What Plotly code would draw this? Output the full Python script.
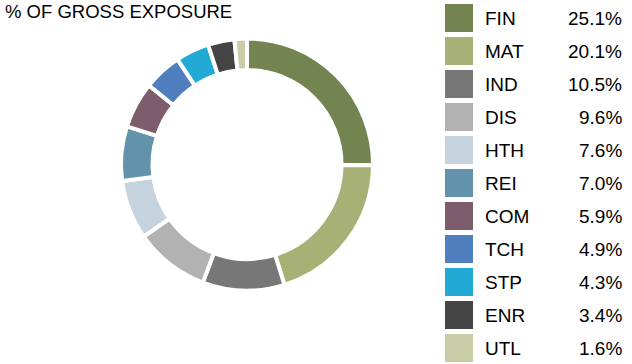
import plotly.graph_objects as go

sectors = ["FIN", "MAT", "IND", "DIS", "HTH", "REI", "COM", "TCH", "STP", "ENR", "UTL"]
weights = [25.1, 20.1, 10.5, 9.6, 7.6, 7.0, 5.9, 4.9, 4.3, 3.4, 1.6]
colors = ["#738451", "#A8B175", "#777777", "#B2B2B2", "#C5D3DE", "#6393AB",
          "#7D5C6C", "#4F7FBF", "#22AAD4", "#444444", "#C8CDA8"]
title_text = "% OF GROSS EXPOSURE"

W, H = 632, 364
FONT = "Liberation Sans, Arial, sans-serif"

fig = go.Figure()
cx, cy, r = 247, 164.5, 126
fig.add_trace(go.Pie(
    labels=sectors, values=weights, sort=False, direction="clockwise", rotation=0,
    hole=0.75, marker=dict(colors=colors, line=dict(color="white", width=4)),
    textinfo="none", hoverinfo="label+percent", showlegend=False,
    domain=dict(x=[(cx - r) / W, (cx + r) / W], y=[1 - (cy + r) / H, 1 - (cy - r) / H]),
))

shapes = []
annotations = [dict(text=title_text, x=3 / W, y=1 - 12 / H, xref="paper", yref="paper",
                    xanchor="left", yanchor="middle", showarrow=False,
                    font=dict(family=FONT, size=18.5, color="black"))]
row_h = 33
for i, (s, v, c) in enumerate(zip(sectors, weights, colors)):
    top = 4 + row_h * i
    shapes.append(dict(type="rect", xref="paper", yref="paper",
                       x0=445 / W, x1=473 / W, y0=1 - (top + 28) / H, y1=1 - top / H,
                       fillcolor=c, line=dict(width=0)))
    ymid = 1 - (top + 14.5) / H
    annotations.append(dict(text=s, x=483 / W, y=ymid, xref="paper", yref="paper",
                            xanchor="left", yanchor="middle", showarrow=False,
                            font=dict(family=FONT, size=19, color="black")))
    annotations.append(dict(text=f"{v:.1f}%", x=624 / W, y=ymid, xref="paper", yref="paper",
                            xanchor="right", yanchor="middle", showarrow=False,
                            font=dict(family=FONT, size=19, color="black")))

fig.update_layout(width=W, height=H, margin=dict(l=0, r=0, t=0, b=0),
                  paper_bgcolor="white", plot_bgcolor="white",
                  shapes=shapes, annotations=annotations)
fig.write_html("out.html", config={"displayModeBar": False},
               post_script="document.body.style.margin='0';document.body.style.overflow='hidden';")
